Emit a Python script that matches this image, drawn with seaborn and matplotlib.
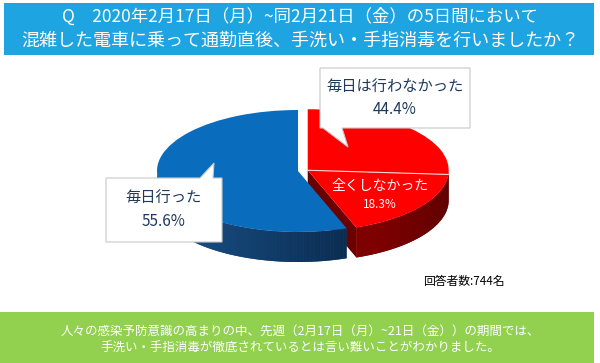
import numpy as np
import matplotlib
matplotlib.use("Agg")
import matplotlib.pyplot as plt
from matplotlib.patches import Rectangle, Polygon
from matplotlib.colors import to_rgb
import seaborn as sns

# survey answers (percent)
labels = ["毎日は行わなかった(一部)", "全くしなかった", "毎日行った"]
values = [26.1, 18.3, 55.6]
red_total_label = "毎日は行わなかった"
red_total = 44.4
blue_label = "毎日行った"
none_label = "全くしなかった"

title_lines = ["Q　2020年2月17日（月）~同2月21日（金）の5日間において",
               "混雑した電車に乗って通勤直後、手洗い・手指消毒を行いましたか？"]
note_lines = ["人々の感染予防意識の高まりの中、先週（2月17日（月）~21日（金））の期間では、",
              "手洗い・手指消毒が徹底されているとは言い難いことがわかりました。"]
n_answers = "回答者数:744名"

sns.set_theme(style="white")
plt.rcParams['font.family'] = ['Noto Sans CJK JP', 'DejaVu Sans']

BLUE = "#0a6cbd"
RED = "#ff0000"
NAVY = "#1f3a5f"

fig = plt.figure(figsize=(6, 3.63), dpi=100)

# pie axes: 1 unit = 141 px across, 61 px down (tilted ellipse)
ax = fig.add_axes([0, 0, 1, 1])
cx_px, cy_px, rx, ry = 298, 171, 141, 61
depth = 30 / ry


def shade(c0, c1, t):
    a, b = np.array(to_rgb(c0)), np.array(to_rgb(c1))
    return a + (b - a) * t


def side(cx, cy, a0, a1, c0, c1, n=80):
    ts = np.linspace(np.radians(a0), np.radians(a1), n + 1)
    # solid underlay hides seams between the shaded strips
    top_x = cx + np.cos(ts)
    top_y = cy + np.sin(ts)
    ax.fill(np.r_[top_x, top_x[::-1]], np.r_[top_y, top_y[::-1] - depth],
            color=shade(c0, c1, 0.5), lw=0)
    for i in range(n):
        t0, t1 = ts[i], ts[i + 1]
        xs = [cx + np.cos(t0), cx + np.cos(t1), cx + np.cos(t1), cx + np.cos(t0)]
        ys = [cy + np.sin(t0), cy + np.sin(t1), cy + np.sin(t1) - depth, cy + np.sin(t0) - depth]
        ax.fill(xs, ys, color=shade(c0, c1, i / n), lw=0)


cum = np.cumsum([0] + values)
ang = 90 - 360 * cum / 100            # wedge boundary angles (clockwise from top)
red_mid = np.radians((ang[0] + ang[2]) / 2)
off = 0.07
bc = (0.0, 0.0)
rc = (off * np.cos(red_mid), off * np.sin(red_mid))

# red cut face (seen through the gap)
t = np.radians(ang[2])
ax.fill([rc[0], rc[0] + np.cos(t), rc[0] + np.cos(t), rc[0]],
        [rc[1], rc[1] + np.sin(t), rc[1] + np.sin(t) - depth, rc[1] - depth],
        color="#6a0000", lw=0)

# blue side + top
side(bc[0], bc[1], 180, 360 + ang[2], "#1f62a2", "#0b2c50")
w, _ = ax.pie([red_total, values[2]], startangle=90, counterclock=False, center=bc,
              colors=["none", BLUE], wedgeprops=dict(linewidth=0))
w[0].set_visible(False)

# red side + top
side(rc[0], rc[1], ang[2], 0, "#840000", "#560000")
w, _ = ax.pie(values, startangle=90, counterclock=False, center=rc,
              colors=[RED, RED, "none"], wedgeprops=dict(linewidth=0))
w[2].set_visible(False)
t = np.radians(ang[1])
ax.plot([rc[0], rc[0] + np.cos(t)], [rc[1], rc[1] + np.sin(t)], color="#ffd6d6", lw=0.8)

ax.set_aspect("auto")
ax.set_xlim(-cx_px / rx, (600 - cx_px) / rx)
ax.set_ylim(-(363 - cy_px) / ry, cy_px / ry)
ax.axis("off")

# overlay in pixel coordinates
ov = fig.add_axes([0, 0, 1, 1], zorder=5)
ov.set_xlim(0, 600)
ov.set_ylim(363, 0)
ov.axis("off")
ov.patch.set_alpha(0)

ov.add_patch(Rectangle((4, 3), 590, 52, color="#1ea4e0", lw=0))
ov.add_patch(Rectangle((0, 312), 594, 51, color="#92d050", lw=0))
ov.text(300, 17, title_lines[0], ha="center", va="center", color="white", fontsize=12.5)
ov.text(300, 41, title_lines[1], ha="center", va="center", color="white", fontsize=13)
ov.text(300, 331, note_lines[0], ha="center", va="center", color="white", fontsize=9)
ov.text(300, 348, note_lines[1], ha="center", va="center", color="white", fontsize=9)
ov.text(423, 281, n_answers, ha="left", va="center", color="black", fontsize=8.5)

# callouts
ov.add_patch(Polygon([(320, 68), (470, 68), (470, 128), (342, 128), (348, 147), (323, 128), (320, 128)],
                     closed=True, fc="white", ec="#c8c8c8", lw=0.8))
ov.text(395, 87, red_total_label, ha="center", va="center", color=NAVY, fontsize=11)
ov.text(395, 110, f"{red_total}%", ha="center", va="center", color=NAVY, fontsize=11)

ov.add_patch(Polygon([(106, 178), (200, 178), (214, 163), (213, 178), (222, 178), (222, 242), (106, 242)],
                     closed=True, fc="white", ec="#c8c8c8", lw=0.8))
ov.text(164, 198, blue_label, ha="center", va="center", color=NAVY, fontsize=11)
ov.text(164, 221, f"{values[2]}%", ha="center", va="center", color=NAVY, fontsize=11)

ov.text(380, 186, none_label, ha="center", va="center", color="white", fontsize=10)
ov.text(380, 205, f"{values[1]}%", ha="center", va="center", color="white", fontsize=8.5)

fig.savefig("out.png", dpi=100, facecolor="white")
